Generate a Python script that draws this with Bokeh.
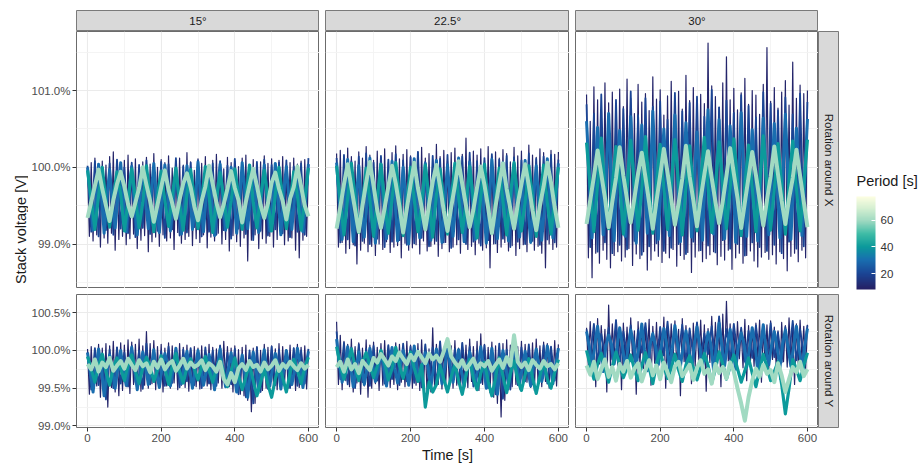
import numpy as np
from math import pi
from bokeh.plotting import figure
from bokeh.layouts import row, column
from bokeh.models import (ColumnDataSource, Range1d, FixedTicker, PrintfTickFormatter,
                          Label, ColorBar, LinearColorMapper, Spacer)
from bokeh.embed import file_html
from bokeh.resources import INLINE

# stack voltage, in steps of 0.01 % relative to 100 %
# one list per rotation axis / amplitude / rotation period (peaks and valleys)

col_labels = ["15°", "22.5°", "30°"]
row_labels = ["Rotation around X", "Rotation around Y"]
periods = [10, 20, 30, 40, 60]

# sample times [s] for each period
t_p10 = np.arange(0, 601, 5)
t_p20 = np.arange(0, 601, 10)
t_p30 = np.arange(0, 600.1, 7.5)
t_p40 = np.arange(0, 601, 10)
t_p60 = np.arange(0, 601, 10)

# ---- rotation around X, 15 deg
x15_p10 = [-2, -90, 6, -96, 12, -88, -4, -104, 8, -92, 3, -99, 14, -86, 20, -108, 5, -94, -3, -90,
           9, -101, 16, -93, 2, -87, 11, -106, -5, -95, 7, -89, 13, -110, 4, -97, 18, -91, 0, -103,
           10, -88, 6, -96, 15, -92, -1, -107, 8, -85, 12, -99, 3, -94, 19, -90, 7, -102, -4, -93,
           11, -98, 5, -88, 14, -105, 2, -91, 9, -96, 17, -86, 4, -100, -2, -94, 13, -109, 6, -89,
           8, -97, 1, -103, 12, -92, 16, -122, 3, -95, 10, -88, -3, -106, 7, -93, 15, -99, 5, -90,
           11, -104, 2, -94, 9, -87, 14, -101, -1, -96, 6, -92, 12, -108, 4, -118, 8, -95, 10, -90,
           3]
x15_p20 = [2, -84, 8, -90, -3, -82, 5, -88, 10, -80,
           0, -86, 6, -91, 3, -79, 9, -87, -2, -83,
           7, -92, 4, -81, 12, -89, 1, -85, 6, -78,
           9, -90, -1, -84, 5, -88, 8, -82, 2, -93,
           11, -80, 4, -87, 0, -95, 7, -83, 10, -89,
           3, -81, 6, -86, 9, -91, 1, -84, 5, -88,
           12]
x15_p30 = [0, -38, -82, -45, 4, -33, -86, -40, -3, -47,
           -79, -36, 6, -42, -84, -31, 1, -49, -88, -37,
           -2, -41, -80, -35, 5, -44, -85, -39, 3, -30,
           -83, -46, -4, -38, -87, -42, 2, -34, -81, -48,
           7, -40, -84, -36, -1, -45, -89, -33, 4, -39,
           -82, -43, 0, -37, -86, -47, 6, -32, -80, -41,
           -3, -44, -85, -38, 3, -35, -83, -46, 5, -40,
           -88, -34, 1, -42, -81, -37, -2, -48, -84, -39,
           4]
x15_p40 = [-4, -42, -81, -37, 0, -45, -78, -40, -6, -35,
           -83, -44, -2, -39, -79, -46, 2, -41, -84, -36,
           -5, -43, -77, -38, -1, -47, -82, -34, -3, -40,
           -80, -45, 1, -37, -85, -42, -7, -39, -78, -44,
           -2, -36, -81, -41, 3, -46, -79, -38, -4, -43,
           -83, -35, 0, -40, -80, -45, -6, -37, -82, -42,
           -1]
x15_p60 = [-66, -45, -24, -3, -28, -50, -70, -43, -22, -6,
           -25, -48, -64, -46, -27, 0, -23, -44, -71, -49,
           -26, -4, -29, -47, -67, -42, -21, -8, -26, -51,
           -69, -44, -25, 2, -22, -46, -65, -48, -28, -5,
           -27, -43, -72, -45, -23, -2, -24, -49, -66, -47,
           -20, -7, -28, -44, -68, -41, -26, 1, -25, -50,
           -64]

# ---- rotation around X, 22.5 deg
x22_p10 = [18, -104, 22, -98, 10, -112, 25, -106, 14, -101, 8, -126, 20, -108, 12, -99, 27, -110, 16, -103,
           9, -115, 21, -100, 13, -107, 24, -97, 6, -111, 19, -104, 28, -102, 11, -118, 17, -99, 23, -108,
           15, -105, 7, -101, 20, -113, 26, -96, 12, -109, 18, -103, 10, -100, 30, -116, 14, -106, 22, -98,
           8, -110, 19, -104, 25, -101, 13, -112, 17, -97, 38, -107, 11, -103, 21, -114, 16, -99, 24, -108,
           9, -105, 27, -131, 14, -100, 20, -111, 12, -104, 23, -98, 18, -109, 7, -102, 26, -115, 15, -106,
           21, -101, 10, -110, 29, -97, 16, -108, 13, -103, 24, -112, 19, -131, 11, -100, 22, -107, 17, -104,
           20]
x22_p20 = [12, -98, 16, -94, 8, -102, 14, -96, 18, -100,
           6, -93, 15, -104, 10, -97, 17, -95, 9, -101,
           13, -99, 20, -92, 7, -103, 15, -96, 11, -98,
           16, -105, 5, -94, 14, -100, 19, -97, 8, -102,
           12, -95, 17, -99, 10, -93, 15, -104, 13, -97,
           9, -100, 18, -96, 11, -101, 14, -94, 16, -98,
           10]
x22_p30 = [6, -44, -94, -50, 10, -40, -97, -47, 2, -52,
           -91, -43, 12, -48, -99, -39, 4, -55, -93, -46,
           8, -42, -96, -50, 0, -45, -100, -41, 11, -49,
           -92, -53, 5, -44, -95, -38, 9, -51, -98, -46,
           3, -43, -90, -48, 12, -40, -97, -54, 7, -45,
           -94, -42, 1, -50, -99, -47, 10, -39, -93, -52,
           6, -46, -96, -41, 4, -48, -91, -44, 9, -53,
           -98, -40, 2, -47, -95, -50, 11, -43, -92, -45,
           5]
x22_p40 = [2, -45, -88, -40, 5, -38, -85, -47, -1, -43,
           -90, -39, 4, -46, -86, -41, 6, -37, -89, -44,
           0, -42, -84, -48, 3, -40, -91, -36, -2, -45,
           -87, -43, 5, -39, -85, -46, 1, -41, -92, -38,
           4, -47, -86, -42, -1, -44, -88, -37, 6, -40,
           -83, -45, 2, -38, -90, -43, 3, -46, -87, -41,
           0]
x22_p60 = [-80, -52, -22, 4, -26, -55, -84, -50, -20, 7,
           -24, -56, -79, -53, -25, 2, -21, -51, -85, -54,
           -23, 6, -27, -52, -81, -49, -19, 3, -25, -57,
           -83, -52, -24, 8, -22, -50, -78, -55, -26, 1,
           -23, -53, -86, -51, -21, 5, -28, -54, -80, -48,
           -22, 4, -24, -56, -82, -50, -25, 6, -20, -52,
           -79]

# ---- rotation around X, 30 deg
x30_p10 = [95, -118, 60, -144, 105, -112, 88, -125, 72, -108, 110, -120, 84, -131, 98, -115, 66, -110, 102, -122,
           79, -117, 115, -106, 90, -128, 70, -113, 108, -119, 85, -110, 96, -134, 74, -121, 118, -109, 89, -116,
           101, -124, 68, -112, 93, -118, 112, -107, 80, -129, 99, -115, 76, -120, 120, -111, 87, -137, 104, -117,
           71, -109, 95, -123, 83, -119, 162, -114, 106, -110, 92, -127, 78, -116, 110, -121, 144, -108, 88, -133,
           103, -118, 75, -112, 97, -125, 116, -115, 82, -109, 100, -122, 94, -130, 69, -117, 108, -111, 156, -120,
           86, -114, 104, -126, 77, -110, 98, -119, 113, -135, 81, -116, 137, -112, 90, -123, 107, -108, 96, -118,
           100]
x30_p20 = [82, -104, 70, -110, 95, -98, 64, -112, 88, -101,
           76, -107, 99, -96, 68, -114, 90, -103, 79, -99,
           86, -109, 62, -105, 97, -100, 73, -113, 84, -97,
           92, -108, 66, -102, 101, -111, 78, -95, 87, -106,
           71, -100, 94, -115, 80, -98, 65, -104, 98, -109,
           83, -101, 74, -112, 91, -97, 69, -106, 96, -103,
           85]
x30_p30 = [60, -12, -92, -18, 52, -8, -88, -22, 70, -15,
           -96, -10, 48, -20, -90, -14, 66, -6, -99, -17,
           55, -13, -86, -21, 73, -9, -94, -16, 50, -19,
           -89, -11, 68, -14, -97, -23, 58, -7, -91, -18,
           46, -16, -95, -12, 75, -20, -87, -10, 62, -15,
           -93, -22, 54, -9, -98, -17, 71, -13, -90, -19,
           49, -11, -96, -21, 64, -8, -88, -16, 57, -14,
           -92, -20, 69, -12, -94, -18, 51, -10, -89, -15,
           63]
x30_p40 = [32, -26, -84, -22, 38, -29, -80, -24, 27, -20,
           -87, -27, 35, -23, -82, -28, 40, -25, -86, -21,
           30, -27, -81, -24, 36, -22, -88, -26, 28, -29,
           -83, -20, 39, -25, -85, -27, 33, -23, -80, -28,
           37, -21, -89, -24, 29, -26, -84, -22, 41, -25,
           -82, -28, 31, -23, -87, -20, 34, -27, -83, -24,
           36]
x30_p60 = [-74, -43, -12, 22, -9, -40, -78, -45, -14, 26,
           -11, -42, -72, -40, -8, 19, -13, -46, -80, -44,
           -10, 24, -7, -41, -75, -47, -15, 28, -12, -43,
           -77, -41, -9, 21, -14, -45, -73, -44, -11, 25,
           -8, -40, -79, -46, -13, 20, -10, -42, -76, -43,
           -12, 27, -9, -44, -74, -41, -14, 23, -11, -45,
           -78]

# ---- rotation around Y, 15 deg
y15_p10 = [2, -58, 5, -50, 0, -47, 8, -62, 3, -52, 9, -75, 6, -49, 12, -55, 4, -60, 10, -53,
           7, -48, 14, -57, 11, -45, 8, -51, 15, -54, 6, -46, 25, -50, 9, -44, 13, -52, 5, -48,
           8, -55, 3, -47, 10, -50, 6, -43, 2, -52, 9, -46, 4, -49, 7, -54, 1, -45, 5, -48,
           3, -51, 6, -44, 0, -47, 8, -52, 4, -46, 2, -43, 7, -50, 12, -42, 5, -48, 3, -55,
           6, -52, 1, -58, 4, -60, 7, -66, -2, -81, 3, -70, 5, -57, 0, -53, 8, -50, 4, -47,
           6, -45, 2, -52, 9, -48, 5, -44, 1, -50, 7, -46, 3, -53, 8, -49, 4, -45, 6, -51,
           2]
y15_p20 = [-2, -52, 3, -46, -5, -65, 1, -50, 4, -44,
           -3, -48, 6, -42, 0, -51, 9, -45, 2, -40,
           -1, -47, 5, -43, -4, -49, 1, -41, 3, -46,
           -2, -50, 4, -44, 0, -47, 6, -39, -3, -45,
           2, -58, -6, -62, 0, -70, 4, -55, -2, -51,
           5, -46, 1, -43, -3, -50, 3, -47, 0, -44,
           2]
y15_p30 = [-3, -28, -55, -24, 2, -22, -60, -30, -6, -26,
           -50, -21, 0, -27, -46, -19, 4, -24, -52, -28,
           -2, -20, -45, -25, 1, -29, -49, -22, -4, -18,
           -47, -26, 3, -23, -44, -20, -1, -27, -50, -24,
           0, -21, -46, -28, -5, -25, -52, -19, 2, -26,
           -48, -23, -3, -29, -55, -27, -6, -31, -62, -28,
           -2, -24, -50, -21, 1, -27, -47, -23, -4, -20,
           -51, -26, 0, -22, -45, -25, 3, -19, -49, -24,
           -1]
y15_p40 = [-8, -25, -42, -20, -5, -28, -46, -22, -10, -24,
           -40, -19, -6, -27, -44, -23, -9, -21, -41, -26,
           -7, -24, -45, -20, -4, -28, -43, -22, -11, -25,
           -39, -21, -8, -26, -42, -24, -12, -30, -48, -27,
           -10, -33, -52, -35, -18, -40, -60, -42, -25, -45,
           -62, -38, -20, -36, -55, -30, -12, -26, -44, -22,
           -9]
y15_p60 = [-18, -25, -12, -28, -16, -22, -10, -27, -20, -14,
           -24, -11, -19, -26, -13, -21, -17, -29, -15, -23,
           -12, -25, -18, -14, -27, -20, -11, -24, -16, -22,
           -19, -13, -26, -17, -21, -28, -15, -38, -45, -30,
           -42, -24, -18, -26, -14, -22, -19, -28, -16, -25,
           -20, -13, -27, -18, -23, -15, -21, -26, -17, -24,
           -19]

# ---- rotation around Y, 22.5 deg
y22_p10 = [38, -45, 20, -52, 12, -40, 8, -48, 15, -55, 5, -43, 10, -58, 3, -47, 14, -62, 7, -50,
           11, -44, 4, -53, 9, -46, 13, -41, 6, -49, 2, -45, 10, -52, 8, -42, 5, -48, 12, -44,
           7, -50, 3, -46, 9, -53, 14, -48, 6, -60, 2, -55, 30, -49, 8, -45, 11, -51, 4, -47,
           9, -43, 6, -50, 13, -46, 3, -52, 10, -44, 7, -49, 15, -41, 5, -47, 12, -53, 22, -45,
           8, -50, 4, -56, 11, -62, 6, -70, 2, -88, 9, -66, 14, -52, 7, -48, 10, -45, 5, -51,
           12, -46, 8, -42, 3, -49, 10, -53, 15, -44, 6, -48, 11, -41, 9, -50, 4, -45, 13, -47,
           8]
y22_p20 = [25, -38, 10, -45, 4, -50, 8, -42, 2, -47,
           6, -40, 0, -44, 7, -38, 3, -46, 9, -41,
           5, -43, 1, -49, 8, -40, 4, -45, 12, -42,
           6, -39, 2, -44, 10, -37, 5, -48, 0, -43,
           7, -50, 3, -58, 9, -64, 1, -52, 6, -46,
           4, -41, 8, -45, 2, -39, 7, -44, 5, -40,
           3]
y22_p30 = [15, -18, -42, -22, 5, -20, -48, -25, -2, -19,
           -45, -23, 3, -17, -41, -26, -1, -21, -47, -18,
           4, -24, -43, -20, 0, -16, -46, -22, 6, -25,
           -40, -19, -3, -23, -49, -21, 2, -18, -44, -24,
           8, -20, -42, -17, 1, -26, -48, -22, -2, -19,
           -45, -23, 5, -21, -50, -25, 3, -27, -58, -24,
           0, -22, -46, -20, 4, -18, -43, -23, -1, -25,
           -47, -19, 2, -21, -41, -24, 6, -17, -44, -20,
           3]
y22_p40 = [5, -20, -38, -18, 2, -22, -40, -16, -3, -19,
           -36, -21, 0, -17, -39, -24, 4, -20, -37, -18,
           -2, -23, -41, -19, -75, -42, -55, -45, -20, -38,
           -55, -35, -18, -40, -58, -33, -12, -37, -52, -30,
           -16, -41, -60, -36, -10, -34, -56, -31, -14, -39,
           -53, -32, -11, -36, -57, -34, -15, -38, -50, -29,
           -12]
y22_p60 = [-22, -15, -28, -12, -25, -18, -30, -14, -20, -26,
           -10, -16, -5, -12, -20, -8, -14, -3, -11, -18,
           -6, -13, -2, -9, -17, -4, -12, -7, -15, -1,
           15, -8, -16, -22, -13, -25, -18, -11, -24, -17,
           -21, -14, -27, -19, -12, -23, -9, -20, 20, -15,
           -22, -16, -26, -13, -19, -24, -14, -21, -18, -25,
           -17]

# ---- rotation around Y, 30 deg
y30_p10 = [30, -22, 38, -15, 25, -48, 42, -18, 33, -12, 28, -55, 60, -20, 35, -14, 40, -25, 27, -52,
           36, -16, 31, -21, 43, -13, 26, -58, 38, -19, 34, -24, 29, -11, 41, -46, 32, -17, 37, -22,
           30, -14, 44, -50, 27, -20, 35, -12, 39, -23, 28, -60, 42, -15, 33, -18, 26, -44, 36, -21,
           31, -13, 40, -25, 34, -54, 29, -16, 45, -19, 37, -12, 32, -48, 48, -22, 65, -14, 35, -20,
           30, -18, 38, -11, 27, -23, 41, -40, 33, -15, 29, -21, 36, -13, 40, -42, 28, -17, 34, -24,
           39, -12, 31, -20, 26, -38, 37, -15, 33, -22, 43, -14, 29, -45, 35, -18, 40, -11, 32, -25,
           34]
y30_p20 = [28, -8, 35, -15, 22, -5, 30, -12, 40, -20,
           25, -6, 33, -14, 27, -3, 36, -10, 24, -18,
           31, -7, 38, -12, 26, -4, 34, -16, 29, -9,
           37, -11, 23, -5, 32, -14, 45, -8, 28, -13,
           35, -6, 30, -15, 26, -10, 33, -4, 27, -12,
           36, -9, 24, -16, 31, -7, 39, -13, 28, -5,
           33]
y30_p30 = [25, 5, -22, 8, 32, 2, -28, 6, 20, 9,
           -18, 4, 30, 7, -25, 3, 27, 10, -20, 5,
           35, 1, -27, 8, 22, 6, -19, 4, 29, 9,
           -24, 2, 33, 7, -21, 5, 26, 3, -30, 8,
           31, 6, -23, 1, 24, 9, -26, 4, 36, 5,
           -20, 7, 28, 2, -25, 6, 23, 10, -22, 3,
           30, 8, -28, 4, 34, 1, -19, 7, 25, 5,
           -24, 9, 27, 3, -21, 6, 32, 2, -26, 5,
           29]
y30_p40 = [0, -20, -38, -18, -4, -24, -42, -21, -2, -19,
           -36, -23, -6, -25, -40, -20, -3, -22, -44, -18,
           -1, -21, -37, -24, -5, -26, -41, -19, -7, -23,
           -39, -22, -4, -20, -43, -25, -2, -18, -38, -21,
           -6, -24, -42, -27, -10, -30, -48, -26, -5, -22,
           -40, -28, -15, -45, -84, -50, -12, -25, -40, -20,
           -3]
y30_p60 = [-20, -32, -15, -38, -25, -12, -35, -22, -40, -18,
           -28, -14, -36, -24, -17, -41, -26, -13, -33, -20,
           -38, -16, -29, -42, -21, -15, -34, -27, -19, -39,
           -23, -13, -31, -25, -44, -18, -30, -22, -37, -16,
           -28, -50, -70, -93, -62, -40, -24, -35, -19, -31,
           -26, -42, -17, -33, -55, -38, -22, -29, -15, -34,
           -25]

times = [t_p10, t_p20, t_p30, t_p40, t_p60]
panels = [
    [[x15_p10, x15_p20, x15_p30, x15_p40, x15_p60],
     [x22_p10, x22_p20, x22_p30, x22_p40, x22_p60],
     [x30_p10, x30_p20, x30_p30, x30_p40, x30_p60]],
    [[y15_p10, y15_p20, y15_p30, y15_p40, y15_p60],
     [y22_p10, y22_p20, y22_p30, y22_p40, y22_p60],
     [y30_p10, y30_p20, y30_p30, y30_p40, y30_p60]],
]

FONT = "Liberation Sans"
# thicker strokes for the slow series, whose noise band is wider in the original
widths = [1.2, 1.8, 3.0, 3.2, 4.0]

# colour scale (dark navy -> teal -> pale yellow)
stops = [0.0, 0.17, 0.32, 0.46, 0.6, 0.74, 0.87, 1.0]
stop_cols = ["#261f63", "#1b4595", "#196fb0", "#0c9a9b", "#3fbca6", "#9fd9c1", "#d3efd1", "#fdfee2"]
rgb = np.array([[int(c[i:i + 2], 16) for i in (1, 3, 5)] for c in stop_cols])
palette = []
for q in np.linspace(0, 1, 256):
    palette.append("#%02x%02x%02x" % tuple(int(round(np.interp(q, stops, rgb[:, k]))) for k in range(3)))
mapper = LinearColorMapper(palette=palette, low=8, high=78)

col_w = [291, 250, 249]
col_lb = [48, 6, 6]


def make_panel(series, r, c):
    top = r == 0
    if top:
        yr, yt, ym = (98.42, 101.77), [99, 100, 101], [98.5, 99.5, 100.5, 101.5]
    else:
        yr, yt, ym = (98.98, 100.74), [99.0, 99.5, 100.0, 100.5], [99.25, 99.75, 100.25]
    p = figure(width=col_w[c], height=257 if top else 159,
               x_range=Range1d(-30, 630), y_range=Range1d(*yr),
               output_backend="svg", toolbar_location=None, tools="",
               x_axis_location=None if top else "below",
               y_axis_location="left" if c == 0 else None,
               min_border_left=col_lb[c], min_border_right=0,
               min_border_top=0 if top else 6, min_border_bottom=0 if top else 20,
               background_fill_color="white", border_fill_color="white",
               outline_line_color="#6b6b6b", outline_line_width=1)
    p.xgrid.ticker = FixedTicker(ticks=[0, 200, 400, 600], minor_ticks=[100, 300, 500])
    p.ygrid.ticker = FixedTicker(ticks=yt, minor_ticks=ym)
    for g in (p.xgrid, p.ygrid):
        g.grid_line_color = "#ebebeb"
        g.grid_line_width = 1.1
        g.minor_grid_line_color = "#f3f3f3"
        g.minor_grid_line_width = 0.9

    xs = [list(t[:len(v)]) for t, v in zip(times, series)]
    ys = [list(100 + np.array(v) / 100) for v in series]
    src = ColumnDataSource(dict(xs=xs, ys=ys, period=periods, lw=widths))
    p.multi_line("xs", "ys", source=src, line_width="lw", line_join="round",
                 line_color={"field": "period", "transform": mapper})

    p.xaxis.ticker = FixedTicker(ticks=[0, 200, 400, 600])
    p.yaxis.ticker = FixedTicker(ticks=yt)
    p.yaxis.formatter = PrintfTickFormatter(format="%.1f%%")
    for ax in (p.xaxis, p.yaxis):
        ax.axis_line_color = None
        ax.major_tick_line_color = "#333333"
        ax.major_tick_out = 4
        ax.major_tick_in = 0
        ax.minor_tick_line_color = None
        ax.major_label_text_font = FONT
        ax.major_label_text_font_size = "11.5px"
        ax.major_label_text_color = "#4d4d4d"
        ax.major_label_standoff = 2
    return p


def make_box(w, h, **kw):
    b = figure(width=w, height=h, x_range=Range1d(0, 1), y_range=Range1d(0, 1),
               output_backend="svg", toolbar_location=None, tools="",
               x_axis_location=None, y_axis_location=None, border_fill_color="white", **kw)
    b.grid.visible = False
    return b


def make_strip(text, w, h, angle=0, **borders):
    s = make_box(w, h, background_fill_color="#d9d9d9", outline_line_color="#7a7a7a",
                 outline_line_width=1, **borders)
    s.add_layout(Label(x=0.5, y=0.5, text=text, angle=angle, text_align="center",
                       text_baseline="middle", text_font=FONT, text_font_size="11.5px",
                       text_color="#1a1a1a"))
    return s


# axis titles sit in their own boxes so they are not clipped
ytitle = make_box(28, 464, min_border=0, outline_line_color=None, background_fill_color="white")
ytitle.add_layout(Label(x=20, y=235, x_units="screen", y_units="screen", text="Stack voltage [V]",
                        angle=pi / 2, text_align="center", text_baseline="middle",
                        text_font=FONT, text_font_size="14.5px", text_color="#1a1a1a"))
xtitle = make_box(790, 17, min_border=0, outline_line_color=None, background_fill_color="white")
xtitle.add_layout(Label(x=419, y=10, x_units="screen", y_units="screen", text="Time [s]",
                        text_align="center", text_baseline="middle",
                        text_font=FONT, text_font_size="14.5px", text_color="#1a1a1a"))

top_strips = [make_strip(col_labels[c], col_w[c], 31, min_border_left=col_lb[c], min_border_right=0,
                         min_border_top=10, min_border_bottom=0) for c in range(3)]
rows = [row(*[make_panel(panels[r][c], r, c) for c in range(3)]) for r in range(2)]

side = column(Spacer(width=21, height=31),
              make_strip(row_labels[0], 21, 257, angle=-pi / 2, min_border_left=0, min_border_right=0,
                         min_border_top=0, min_border_bottom=0),
              make_strip(row_labels[1], 21, 159, angle=-pi / 2, min_border_left=0, min_border_right=0,
                         min_border_top=6, min_border_bottom=20))

cbf = make_box(83, 464, min_border=0, outline_line_color=None, background_fill_color="white")
cb = ColorBar(color_mapper=mapper, location=(17, 175), width=19, height=93, padding=0, margin=0,
              ticker=FixedTicker(ticks=[20, 40, 60]), major_label_text_font=FONT,
              major_label_text_font_size="11.5px", major_label_text_color="#333333",
              label_standoff=5, major_tick_line_color="white", major_tick_in=4, major_tick_out=0,
              minor_tick_line_color=None, bar_line_color=None, border_line_color=None,
              background_fill_color=None)
cbf.add_layout(cb, "center")
cbf.add_layout(Label(x=17, y=284, x_units="screen", y_units="screen", text="Period [s]",
                     text_align="left", text_baseline="middle", text_font=FONT,
                     text_font_size="14.5px", text_color="#1a1a1a"))

layout = row(ytitle, column(row(*top_strips), rows[0], rows[1], xtitle), side, cbf)

open("out.html", "w").write(file_html(layout, INLINE))
